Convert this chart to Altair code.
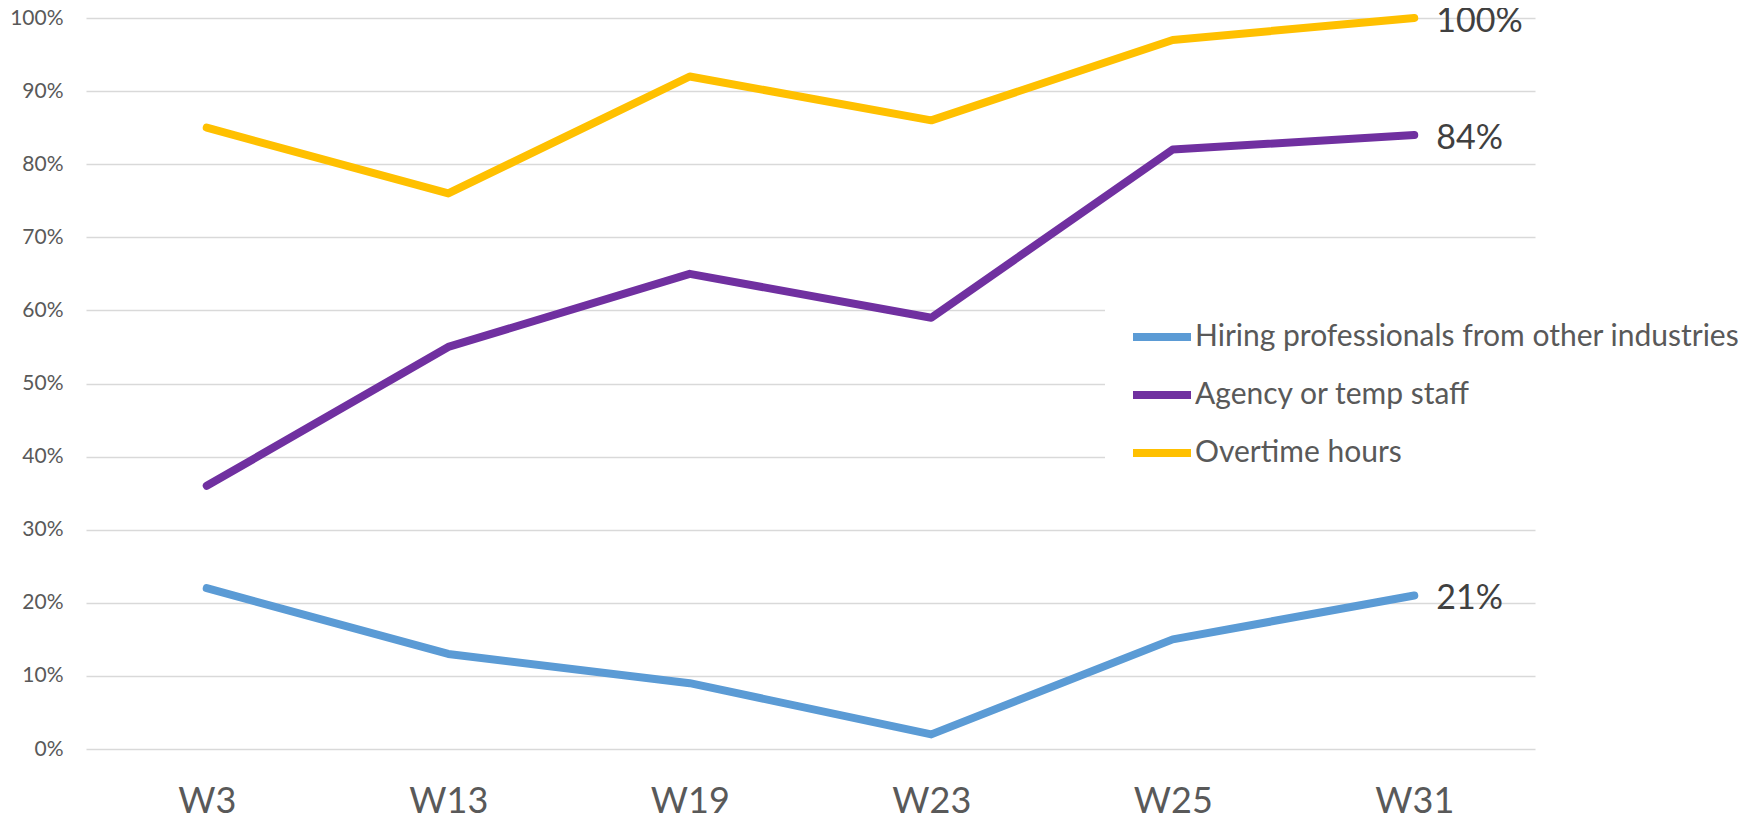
import altair as alt
import pandas as pd

weeks = ["W3", "W13", "W19", "W23", "W25", "W31"]
series_names = ["Hiring professionals from other industries", "Agency or temp staff", "Overtime hours"]
hiring = [0.22, 0.13, 0.09, 0.02, 0.15, 0.21]
agency = [0.36, 0.55, 0.65, 0.59, 0.82, 0.84]
overtime = [0.85, 0.76, 0.92, 0.86, 0.97, 1.00]
colors = ["#5B9BD5", "#7030A0", "#FFC000"]
y_ticks = [i / 10 for i in range(11)]

rows = []
for name, vals in zip(series_names, [hiring, agency, overtime]):
    for w, v in zip(weeks, vals):
        rows.append({"week": w, "series": name, "value": v})
df = pd.DataFrame(rows)

FONT = "Lato"

x = alt.X("week:N", sort=weeks, scale=alt.Scale(type="point", padding=0.5),
          axis=alt.Axis(title=None, labelAngle=0, labelFontSize=36, labelColor="#595959",
                        labelFont=FONT, labelPadding=35, ticks=False, domain=False, grid=False))
y = alt.Y("value:Q", scale=alt.Scale(domain=[0, 1], nice=False),
          axis=alt.Axis(title=None, values=y_ticks, format=".0%", labelFontSize=21,
                        labelColor="#595959", labelFont=FONT, labelPadding=23, ticks=False,
                        domain=False, grid=True, gridColor="#d9d9d9", gridWidth=1.5))
color = alt.Color("series:N", sort=series_names,
                  scale=alt.Scale(domain=series_names, range=colors),
                  legend=alt.Legend(title=None, orient="none", legendX=1019, legendY=262,
                                    fillColor="white", padding=24, symbolType="stroke",
                                    symbolStrokeWidth=8, symbolSize=3364, labelFontSize=30,
                                    labelFont=FONT, labelColor="#595959", labelOffset=0,
                                    rowPadding=9, labelLimit=700))

lines = alt.Chart(df).mark_line(strokeWidth=8, strokeCap="round", strokeJoin="round").encode(
    x=x, y=y, color=color, detail="series:N")

labels = alt.Chart(df).transform_filter(alt.datum.week == "W31").mark_text(
    align="left", baseline="middle", dx=22, dy=4, fontSize=34, font=FONT, color="#404040"
).encode(x=alt.X("week:N", sort=weeks), y="value:Q", text=alt.Text("value:Q", format=".0%"))

chart = alt.layer(lines, labels).properties(
    width=1449, height=731,
    background="white",
    autosize=alt.AutoSizeParams(type="none"),
    padding={"left": 78, "top": 10, "right": 212, "bottom": 64},
).configure_view(stroke=None)

chart.save("out.html", embed_options={"renderer": "svg", "actions": False})
